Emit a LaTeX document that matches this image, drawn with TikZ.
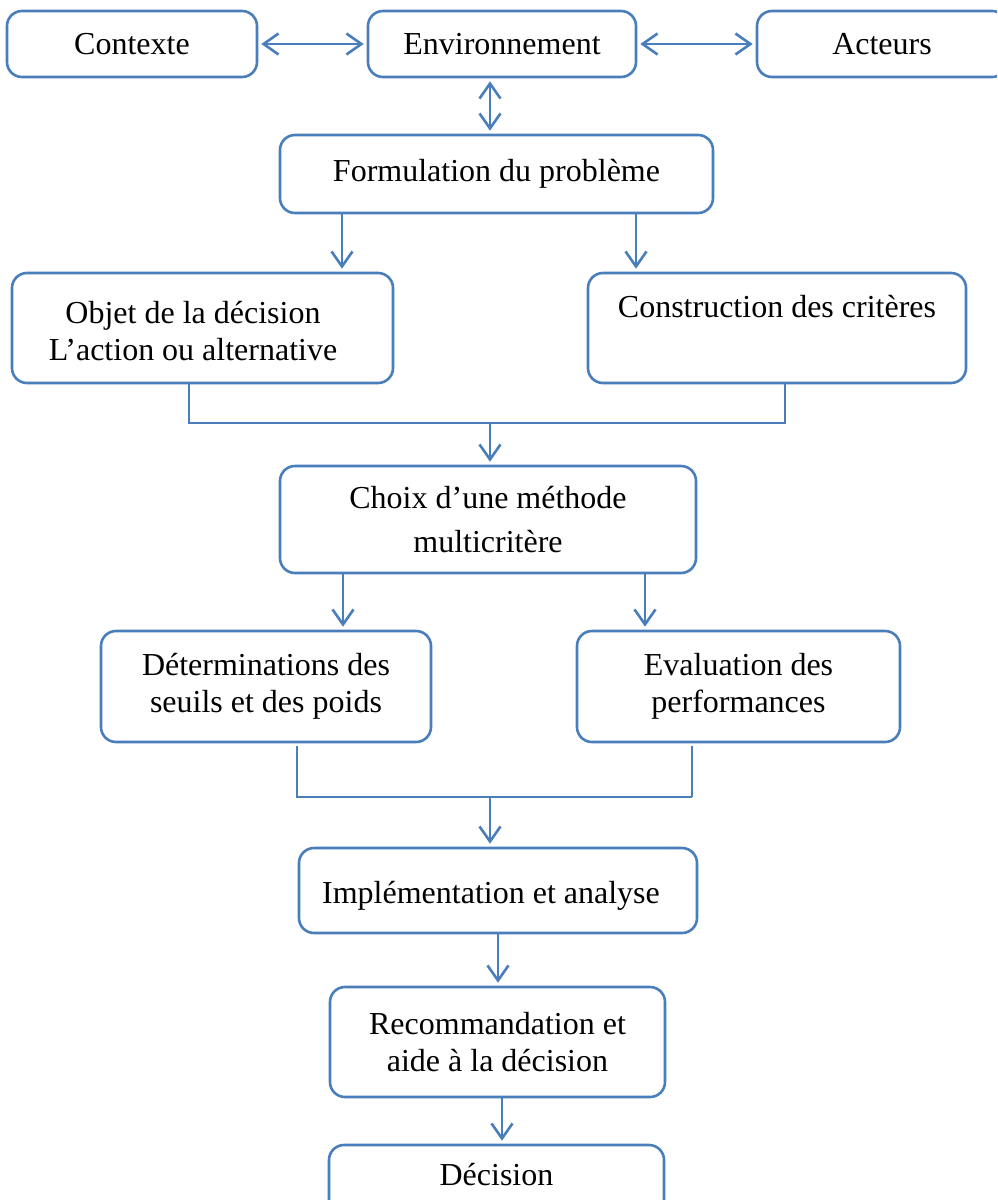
\documentclass[tikz,border=0pt]{standalone}
\usepackage{fontspec}
\setmainfont{Liberation Serif}
\usetikzlibrary{arrows.meta}
\definecolor{flowblue}{RGB}{74,126,187}
\begin{document}
\begin{tikzpicture}[x=1pt,y=-1pt,
  box/.style={draw=flowblue,line width=2.6pt,rounded corners=15pt,inner sep=0pt,
    align=center,font=\fontsize{32}{37}\selectfont},
  lbl/.style={inner sep=0pt,align=center,font=\fontsize{32}{37}\selectfont},
  link/.style={draw=flowblue,line width=2.6pt},
  barb/.tip={Straight Barb[length=15pt,width=21pt]},
  flow/.style={link,-barb,shorten >=3pt},
  both/.style={link,barb-barb,shorten >=3pt,shorten <=3pt}]
\useasboundingbox (0,0) rectangle (997,1200);
\clip (0,0) rectangle (997,1200);

% top row
\node[box,minimum width=250pt,minimum height=66pt] (ctx) at (132,44) {Contexte};
\node[box,minimum width=268pt,minimum height=66pt] (env) at (502,44) {Environnement};
\node[box,minimum width=250pt,minimum height=66pt] (act) at (882,44) {Acteurs};

% problem statement
\node[box,minimum width=433pt,minimum height=78pt] (form) at (496.5,174) {Formulation du probl\`eme};

% decision object and criteria
\node[box,minimum width=381pt,minimum height=110pt] (obj) at (202.5,328) {};
\node[lbl] (objtxt) at (193,331) {Objet de la d\'ecision\\L’action ou alternative};
\node[box,minimum width=378pt,minimum height=110pt] (crit) at (777,328) {};
\node[lbl,anchor=base] (crittxt) at (777,317) {Construction des crit\`eres};

% method
\node[box,minimum width=416pt,minimum height=107pt] (meth) at (488,519.5)
  {Choix d’une m\'ethode\\[7pt]multicrit\`ere};

% thresholds and performances
\node[box,minimum width=330pt,minimum height=111pt] (seuil) at (266,686.5)
  {D\'eterminations des\\seuils et des poids};
\node[box,minimum width=323pt,minimum height=111pt] (perf) at (738.5,686.5)
  {Evaluation des\\performances};

% implementation, recommendation, decision
\node[box,minimum width=398pt,minimum height=85pt] (impl) at (498,890.5) {};
\node[lbl,anchor=base] (impltxt) at (491,903) {Impl\'ementation et analyse};
\node[box,minimum width=335pt,minimum height=110pt] (reco) at (497.5,1042)
  {Recommandation et\\aide \`a la d\'ecision};
\node[box,minimum width=335pt,minimum height=78pt] (dec) at (496.5,1184) {};
\node[lbl,anchor=base] (dectxt) at (496.5,1185) {D\'ecision};

% columns used by the connectors
\coordinate (cA) at (490,0);
\coordinate (cL1) at (342,0);
\coordinate (cR1) at (636,0);
\coordinate (bL1) at (189,423);
\coordinate (bR1) at (785,423);
\coordinate (cL2) at (343,0);
\coordinate (cR2) at (645,0);
\coordinate (bL2) at (297,797);
\coordinate (bR2) at (692,797);
\coordinate (cI) at (498,0);
\coordinate (cR) at (502,0);

% two-way links at the top
\draw[both] (ctx.east) -- (env.west);
\draw[both] (env.east) -- (act.west);
\draw[both] (env.south -| cA) -- (form.north -| cA);

% split after the problem statement
\draw[flow] (form.south -| cL1) -- (obj.north -| cL1);
\draw[flow] (form.south -| cR1) -- (crit.north -| cR1);

% join towards the method
\draw[link] (obj.south -| bL1) -- (bL1) -- (bR1) -- (crit.south -| bR1);
\draw[flow] (bL1 -| cA) -- (meth.north -| cA);

% split after the method
\draw[flow] (meth.south -| cL2) -- (seuil.north -| cL2);
\draw[flow] (meth.south -| cR2) -- (perf.north -| cR2);

% join towards the implementation
\draw[link,shorten <=3pt] (seuil.south -| bL2) -- (bL2) -- (bR2);
\draw[link,shorten <=3pt] (perf.south -| bR2) -- (bR2);
\draw[flow] (bL2 -| cA) -- (impl.north -| cA);

% final chain
\draw[flow] (impl.south -| cI) -- (reco.north -| cI);
\draw[flow] (reco.south -| cR) -- (dec.north -| cR);
\end{tikzpicture}
\end{document}
